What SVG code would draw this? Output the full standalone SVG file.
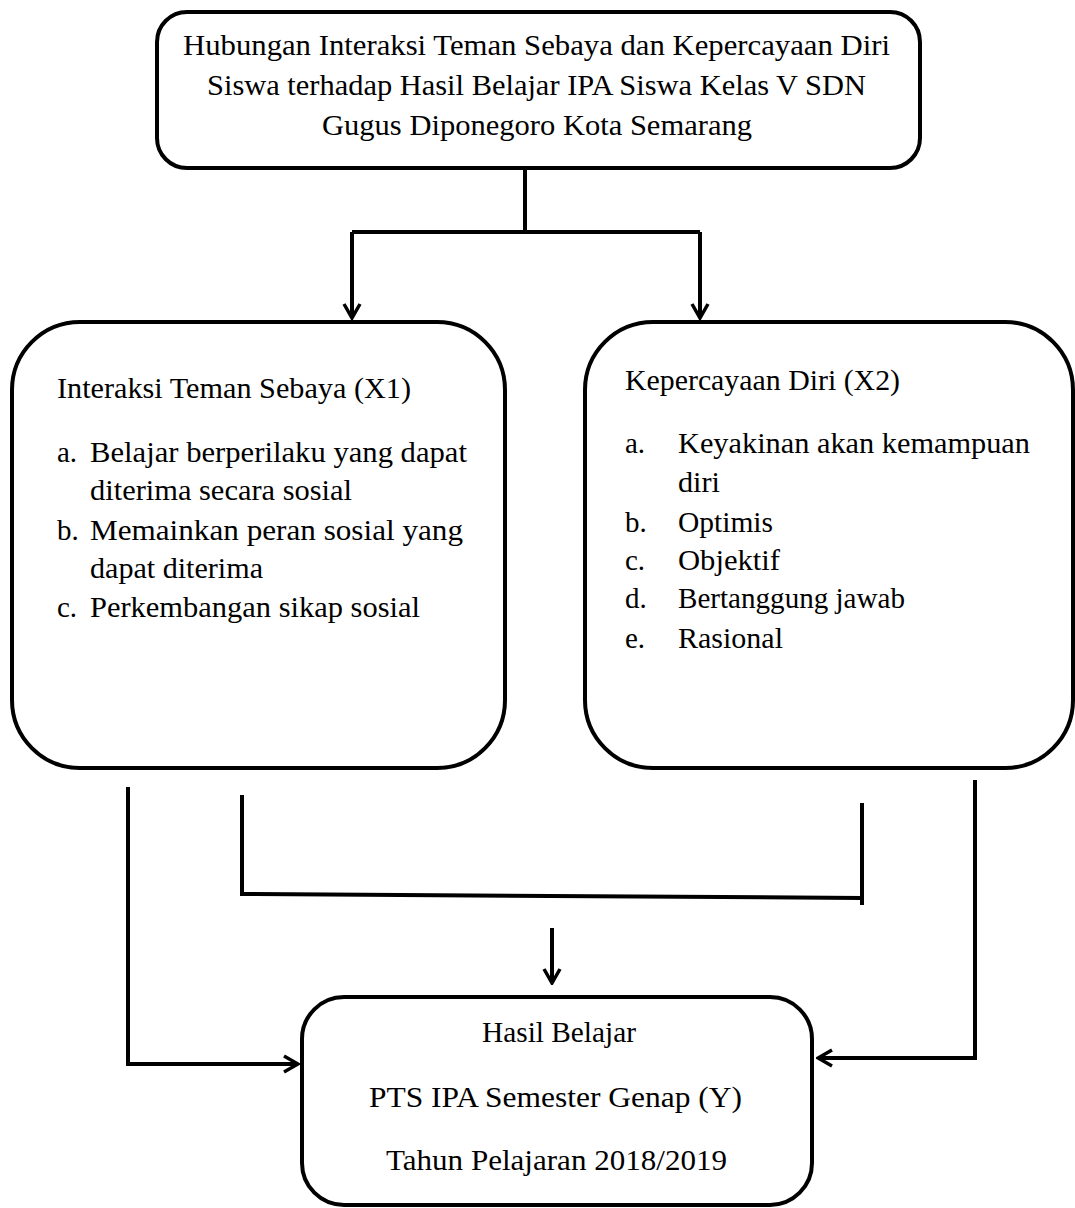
<svg xmlns="http://www.w3.org/2000/svg" width="1075" height="1208" viewBox="0 0 1075 1208">
<style>
.box{fill:#fff;stroke:#000;stroke-width:4}
.ln{fill:none;stroke:#000;stroke-width:4}
text{font-family:"Liberation Serif","Times New Roman",serif;font-size:29px;fill:#000}
</style>
<defs>
<marker id="ah" viewBox="0 0 20 20" refX="18" refY="10" markerWidth="20" markerHeight="20" markerUnits="userSpaceOnUse" orient="auto">
<path d="M4,2 L18,10 L4,18" fill="none" stroke="#000" stroke-width="3.5"/>
</marker>
</defs>
<rect width="1075" height="1208" fill="#fff"/>
<g id="connectors">
<path class="ln" d="M525,168 V232 M352,232 H700"/>
<path class="ln" d="M352,232 V318" marker-end="url(#ah)"/>
<path class="ln" d="M700,232 V318" marker-end="url(#ah)"/>
<path class="ln" d="M242,795 V894 L862,898 M862,803 V905"/>
<path class="ln" d="M552,928 V983" marker-end="url(#ah)"/>
<path class="ln" d="M128,787 V1064 H298" marker-end="url(#ah)"/>
<path class="ln" d="M975,780 V1058 H818" marker-end="url(#ah)"/>
</g>
<g id="node-top">
<rect class="box" x="157" y="12" width="763" height="156" rx="30"/>
<text x="183" y="55" textLength="707" lengthAdjust="spacingAndGlyphs">Hubungan Interaksi Teman Sebaya dan Kepercayaan Diri</text>
<text x="207" y="95" textLength="659" lengthAdjust="spacingAndGlyphs">Siswa terhadap Hasil Belajar IPA Siswa Kelas V SDN</text>
<text x="322" y="135" textLength="430" lengthAdjust="spacingAndGlyphs">Gugus Diponegoro Kota Semarang</text>
</g>
<g id="node-x1">
<rect class="box" x="12" y="322" width="493" height="446" rx="68"/>
<text x="57" y="398" textLength="354" lengthAdjust="spacingAndGlyphs">Interaksi Teman Sebaya (X1)</text>
<text x="57" y="462">a.</text>
<text x="90" y="462" textLength="377" lengthAdjust="spacingAndGlyphs">Belajar berperilaku yang dapat</text>
<text x="90" y="500" textLength="262" lengthAdjust="spacingAndGlyphs">diterima secara sosial</text>
<text x="57" y="540">b.</text>
<text x="90" y="540" textLength="373" lengthAdjust="spacingAndGlyphs">Memainkan peran sosial yang</text>
<text x="90" y="578" textLength="173" lengthAdjust="spacingAndGlyphs">dapat diterima</text>
<text x="57" y="617">c.</text>
<text x="90" y="617" textLength="330" lengthAdjust="spacingAndGlyphs">Perkembangan sikap sosial</text>
</g>
<g id="node-x2">
<rect class="box" x="585" y="322" width="488" height="446" rx="68"/>
<text x="625" y="390" textLength="275" lengthAdjust="spacingAndGlyphs">Kepercayaan Diri (X2)</text>
<text x="625" y="453">a.</text>
<text x="678" y="453" textLength="352" lengthAdjust="spacingAndGlyphs">Keyakinan akan kemampuan</text>
<text x="678" y="492" textLength="42" lengthAdjust="spacingAndGlyphs">diri</text>
<text x="625" y="532">b.</text>
<text x="678" y="532" textLength="95" lengthAdjust="spacingAndGlyphs">Optimis</text>
<text x="625" y="570">c.</text>
<text x="678" y="570" textLength="102" lengthAdjust="spacingAndGlyphs">Objektif</text>
<text x="625" y="608">d.</text>
<text x="678" y="608" textLength="227" lengthAdjust="spacingAndGlyphs">Bertanggung jawab</text>
<text x="625" y="648">e.</text>
<text x="678" y="648" textLength="105" lengthAdjust="spacingAndGlyphs">Rasional</text>
</g>
<g id="node-y">
<rect class="box" x="302" y="997" width="510" height="208" rx="42"/>
<text x="482" y="1042" textLength="154" lengthAdjust="spacingAndGlyphs">Hasil Belajar</text>
<text x="369" y="1107" textLength="373" lengthAdjust="spacingAndGlyphs">PTS IPA Semester Genap  (Y)</text>
<text x="386" y="1170" textLength="341" lengthAdjust="spacingAndGlyphs">Tahun Pelajaran 2018/2019</text>
</g>
</svg>
